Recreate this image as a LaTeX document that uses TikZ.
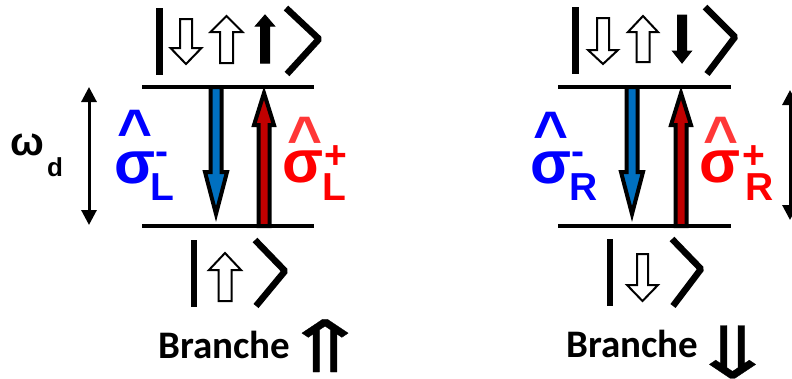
\documentclass[tikz,border=0pt]{standalone}
\usepackage{fontspec}
\setmainfont{Carlito}
\newfontfamily\arialfont{Liberation Sans}
\newfontfamily\symfont{DejaVu Sans}[FakeBold=0.4]
\usetikzlibrary{arrows.meta,calc}
\definecolor{arrblue}{RGB}{0,112,192}
\definecolor{arrred}{RGB}{192,0,0}
\definecolor{txtblue}{RGB}{0,0,255}
\definecolor{txtred}{RGB}{255,0,0}
\definecolor{hatred}{RGB}{255,55,55}
% #1 style, #2 x, #3 y tail, #4 y head base, #5 y tip, #6 shaft half width, #7 head half width
\newcommand{\blkarrow}[7]{\path[#1] ({#2-#6},#3) -- ({#2+#6},#3) -- ({#2+#6},#4) -- ({#2+#7},#4) -- (#2,#5) -- ({#2-#7},#4) -- ({#2-#6},#4) -- cycle;}
% #1 style, #2 from, #3 to, #4 head length, #5 shaft half width, #6 head half width
\newcommand{\transarrow}[6]{\path[#1] ([xshift=-#5pt]#2) -- ([xshift=#5pt]#2) -- ($(#3)!#4pt!(#2)+(#5,0)$) -- ($(#3)!#4pt!(#2)+(#6,0)$) -- (#3) -- ($(#3)!#4pt!(#2)+(-#6,0)$) -- ($(#3)!#4pt!(#2)+(-#5,0)$) -- cycle;}
\tikzset{
  ketline/.style={line width=6.5pt, line cap=butt, line join=bevel},
  level/.style={line width=4pt},
  hollow/.style={draw=black, fill=white, line width=2pt, line join=miter},
  solidarr/.style={draw=black, fill=black, line width=1pt},
  blueblk/.style={draw=black, fill=arrblue, line width=4pt, line join=miter},
  redblk/.style={draw=black, fill=arrred, line width=4pt, line join=miter},
  gap/.style={line width=3pt, {Triangle[width=15pt,length=15pt]}-{Triangle[width=15pt,length=15pt]}},
  big/.style={inner sep=0pt, font=\arialfont\bfseries\fontsize{60}{70}\selectfont},
  small/.style={inner sep=0pt, font=\arialfont\bfseries\fontsize{39}{45}\selectfont},
  branch/.style={inner sep=0pt, anchor=base west, font=\bfseries\fontsize{39}{45}\selectfont},
  dbl/.style={inner sep=0pt, anchor=base, font=\symfont\fontsize{72}{76}\selectfont},
}
\begin{document}
\begin{tikzpicture}[x=1pt,y=-1pt]
\useasboundingbox (0,0) rectangle (792,378);
% ===== left diagram =====
\coordinate (LupA) at (142,87); \coordinate (LupB) at (314,87);
\coordinate (LloA) at (142,226); \coordinate (LloB) at (314,226);
\draw[level] (LupA) -- (LupB);
\draw[level] (LloA) -- (LloB);
% top ket
\draw[ketline] (159.5,8) -- (159.5,75);
\blkarrow{hollow}{186}{19}{48}{64}{6}{15.5}
\blkarrow{hollow}{226.5}{63}{32}{16}{6.5}{16}
\blkarrow{solidarr}{265}{63}{26}{15}{4.5}{9.5}
\draw[ketline] (286,8) -- (319,39) -- (287,74);
% bottom ket
\draw[ketline] (194,240) -- (194,307);
\blkarrow{hollow}{225}{301}{270}{253}{6.5}{16}
\draw[ketline] (255,240) -- (285,271) -- (256,306);
% transitions
\coordinate (bLa) at (216,87); \coordinate (bLb) at (216,214);
\coordinate (rLa) at (264,226); \coordinate (rLb) at (264,93);
\transarrow{blueblk}{bLa}{bLb}{42}{5.5}{11}
\transarrow{redblk}{rLa}{rLb}{32}{5.5}{10}
% energy gap
\coordinate (gLa) at (89,87); \coordinate (gLb) at (89,225);
\draw[gap] (gLa) -- (gLb);
\node[anchor=base west, inner sep=0pt, font=\arialfont\bfseries\fontsize{40}{46}\selectfont] (om) at (10,155) {ω};
\node[anchor=base west, inner sep=0pt, font=\arialfont\bfseries\fontsize{26}{30}\selectfont] (omd) at (47,176) {d};
% labels
\node[big, anchor=base, text=txtblue] (hatLm) at (135,151) {\textasciicircum};
\node[big, anchor=base west, text=txtblue] (sLm) at (114.5,183) {σ};
\node[small, anchor=base west, text=txtblue] (mLm) at (155.5,164) {-};
\node[small, anchor=base west, text=txtblue] (LLm) at (150,200) {L};
\node[big, anchor=base, text=hatred] (hatLp) at (305.5,158) {\textasciicircum};
\node[big, anchor=base west, text=txtred] (sLp) at (282.5,182) {σ};
\node[small, anchor=base west, text=txtred] (pLp) at (324,168) {+};
\node[small, anchor=base west, text=txtred] (LLp) at (322,200) {L};
\node[branch] (brL) at (158,358) {Branche};
\node[dbl] (arrL) at (325,372) {\scalebox{1.5}[1]{⇑}};
% ===== right diagram =====
\coordinate (RupA) at (558,87); \coordinate (RupB) at (731,87);
\coordinate (RloA) at (558,226); \coordinate (RloB) at (731,226);
\draw[level] (RupA) -- (RupB);
\draw[level] (RloA) -- (RloB);
\draw[ketline] (575.5,7) -- (575.5,74);
\blkarrow{hollow}{603}{18}{50}{64}{6}{15}
\blkarrow{hollow}{643}{62}{32}{16}{6.5}{15}
\blkarrow{solidarr}{682}{15}{51}{63}{4.5}{9.5}
\draw[ketline] (705,7) -- (735,37) -- (707,74);
\draw[ketline] (610,239) -- (610,306);
\blkarrow{hollow}{642.5}{254}{285}{301}{5.5}{15.5}
\draw[ketline] (672,239) -- (701,269) -- (673,306);
\coordinate (bRa) at (632,87); \coordinate (bRb) at (632,214);
\coordinate (rRa) at (681,226); \coordinate (rRb) at (681,93);
\transarrow{blueblk}{bRa}{bRb}{42}{5.5}{11}
\transarrow{redblk}{rRa}{rRb}{32}{5.5}{10}
\coordinate (gRa) at (790,90); \coordinate (gRb) at (790,220);
\draw[gap] (gRa) -- (gRb);
\node[big, anchor=base, text=txtblue] (hatRm) at (551.5,153) {\textasciicircum};
\node[big, anchor=base west, text=txtblue] (sRm) at (530.5,183) {σ};
\node[small, anchor=base west, text=txtblue] (mRm) at (571.5,164) {-};
\node[small, anchor=base west, text=txtblue] (RRm) at (569,200) {R};
\node[big, anchor=base, text=hatred] (hatRp) at (721.5,158) {\textasciicircum};
\node[big, anchor=base west, text=txtred] (sRp) at (699.5,182) {σ};
\node[small, anchor=base west, text=txtred] (pRp) at (742,168) {+};
\node[small, anchor=base west, text=txtred] (RRp) at (745,200) {R};
\node[branch] (brR) at (566,357) {Branche};
\node[dbl] (arrR) at (732.5,378) {\scalebox{1.5}[1]{⇓}};
\end{tikzpicture}
\end{document}
